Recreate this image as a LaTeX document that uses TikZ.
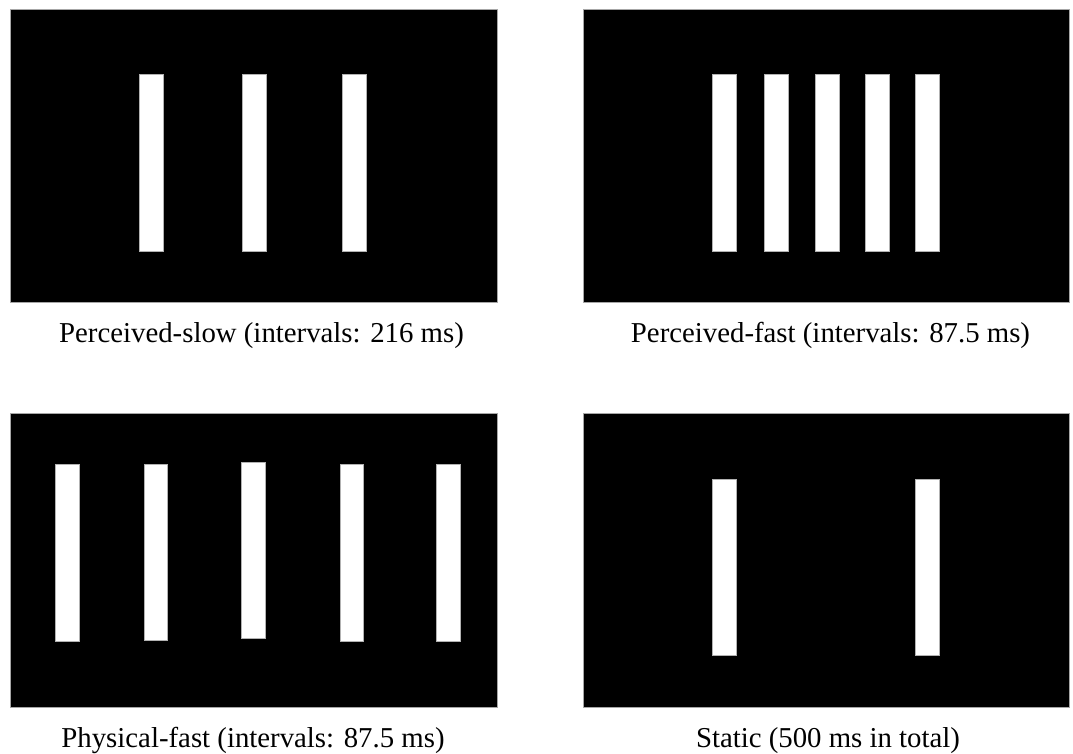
\documentclass[tikz,border=0pt]{standalone}
\usepackage{fontspec}
\setmainfont{Liberation Serif}
\begin{document}
\begin{tikzpicture}[x=1pt,y=-1pt,
  panel/.style={fill=black,draw=gray!70,line width=0.6pt},
  bar/.style={fill=white,draw=gray!60,line width=0.6pt},
  caption/.style={anchor=base,inner sep=0pt,font=\fontsize{28.8}{31}\selectfont}]
\useasboundingbox (0,0) rectangle (1073,754);
% panels
\draw[panel] (10,9) rectangle (497,302);
\draw[panel] (583,9) rectangle (1069,302);
\draw[panel] (10,413) rectangle (497,707);
\draw[panel] (583,413) rectangle (1069,707);
% perceived-slow bars
\foreach \x in {139.3,242,342}
  \draw[bar] (\x,74.3) rectangle ++(24,176.7);
% perceived-fast bars
\foreach \x in {712.7,764,815,865.3,915.3}
  \draw[bar] (\x,74.3) rectangle ++(24,176.7);
% physical-fast bars
\draw[bar] (55.7,464.7) rectangle (79.3,641);
\draw[bar] (144,464) rectangle (167.7,640.3);
\draw[bar] (241.3,462.7) rectangle (265,638.7);
\draw[bar] (340,464.7) rectangle (363.7,641);
\draw[bar] (436.3,464.7) rectangle (460,641);
% static bars
\draw[bar] (712.7,479.3) rectangle (736.3,655.3);
\draw[bar] (915.3,479.3) rectangle (939,655.3);
% captions
\node[caption] (c1) at (261.5,342) {Perceived-slow (intervals: 216 ms)};
\node[caption] (c2) at (830.5,342) {Perceived-fast (intervals: 87.5 ms)};
\node[caption] (c3) at (253,747) {Physical-fast (intervals: 87.5 ms)};
\node[caption] (c4) at (828,747) {Static (500 ms in total)};
\end{tikzpicture}
\end{document}
